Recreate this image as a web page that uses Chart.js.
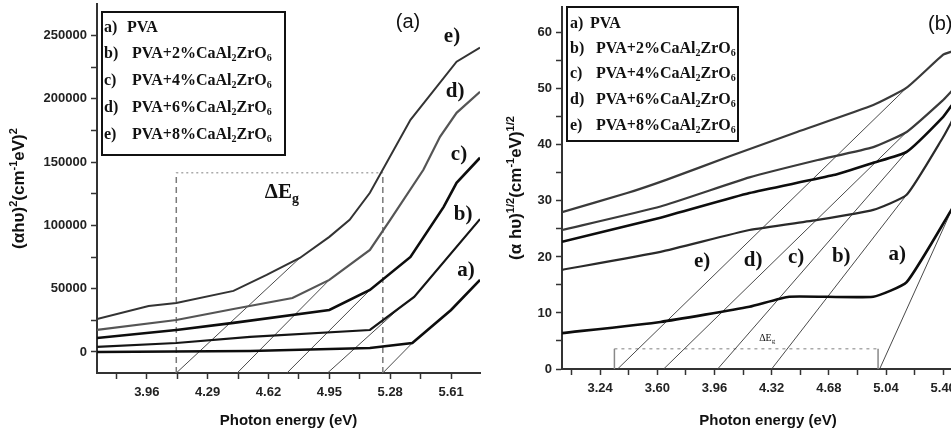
<!DOCTYPE html>
<html><head><meta charset="utf-8">
<script src="https://cdn.jsdelivr.net/npm/chart.js@4.4.1/dist/chart.umd.min.js"></script>
<style>
html,body{margin:0;padding:0;background:#fff;overflow:hidden;width:951px;height:433px;position:relative;}
#ca{position:absolute;left:0;top:0;}
#cb{position:absolute;left:490px;top:0;}
</style></head><body>
<canvas id="ca" width="490" height="433"></canvas>
<canvas id="cb" width="484" height="433"></canvas>
<script>
// ---------- shared text ----------
const seriesLetters = ['a)', 'b)', 'c)', 'd)', 'e)'];
const seriesNames = ['PVA', 'PVA+2%CaAl2ZrO6', 'PVA+4%CaAl2ZrO6', 'PVA+6%CaAl2ZrO6', 'PVA+8%CaAl2ZrO6'];
const xTitle = 'Photon energy (eV)';

// ---------- panel (a): (αhυ)^2 ----------
const curveA_a = [[3.69,0],[4.52,800],[5.17,3200],[5.40,7100],[5.61,33200],[5.767,57000]];
const curveA_b = [[3.69,4000],[4.12,7100],[4.52,11900],[5.17,17400],[5.41,43500],[5.767,105000]];
const curveA_c = [[3.69,11000],[4.12,17400],[4.43,23000],[4.95,33200],[5.17,49000],[5.39,75100],[5.57,114700],[5.64,133700],[5.767,153500]];
const curveA_d = [[3.69,17400],[4.12,25300],[4.43,34000],[4.75,42700],[4.95,57000],[5.17,80700],[5.28,104400],[5.46,144000],[5.55,170000],[5.64,189000],[5.767,205700]];
const curveA_e = [[3.69,26000],[3.97,36400],[4.12,38700],[4.43,48300],[4.61,60900],[4.79,74300],[4.95,91000],[5.06,104400],[5.17,125800],[5.39,183500],[5.64,229400],[5.767,240500]];
const tangentA_e = [[4.12,-16600],[4.79,74300]];
const tangentA_d = [[4.45,-16600],[4.95,57000]];
const tangentA_c = [[4.72,-16600],[5.17,49000]];
const tangentA_b = [[4.94,-16600],[5.335,35300]];
const tangentA_a = [[5.24,-16600],[5.40,7100]];
const gapBoxA = {x1: 4.12, x2: 5.24, top: 141600, bottom: -16600};
const xTicksA = [3.795,3.96,4.125,4.29,4.455,4.62,4.785,4.95,5.115,5.28,5.445,5.61];
const xLabelsA = [3.96,4.29,4.62,4.95,5.28,5.61];
const yTicksA = [0,25000,50000,75000,100000,125000,150000,175000,200000,225000,250000];
const yLabelsA = [0,50000,100000,150000,200000,250000];

// ---------- panel (b): (αhυ)^1/2 ----------
const curveB_a = [[3.0,6.4],[3.62,8.4],[4.18,11.1],[4.43,12.9],[4.96,12.9],[5.17,15.5],[5.46,28.8]];
const curveB_b = [[3.0,17.7],[3.62,20.9],[4.18,24.8],[4.61,26.6],[4.96,28.4],[5.17,31.1],[5.40,41.4],[5.46,44.5]];
const curveB_c = [[3.0,22.7],[3.62,27.0],[4.18,31.4],[4.71,34.6],[4.96,36.8],[5.17,38.75],[5.40,45.0],[5.46,47.3]];
const curveB_d = [[3.0,24.8],[3.62,29.0],[4.18,34.2],[4.61,37.3],[4.96,39.6],[5.17,42.3],[5.40,48.0],[5.46,49.8]];
const curveB_e = [[3.0,28.0],[3.41,31.4],[3.66,33.8],[4.06,38.0],[4.48,42.3],[4.96,47.1],[5.17,50.2],[5.40,56.1],[5.46,56.7]];
const tangentB_e = [[3.35,0],[5.17,50.2]];
const tangentB_d = [[3.64,0],[5.17,42.3]];
const tangentB_c = [[3.98,0],[5.17,38.75]];
const tangentB_b = [[4.32,0],[5.17,31.1]];
const tangentB_a = [[5.0,0],[5.46,28.8]];
const gapBoxB = {x1: 3.33, x2: 4.99, top: 3.6, bottom: 0};
const xTicksB = [3.06,3.24,3.42,3.60,3.78,3.96,4.14,4.32,4.50,4.68,4.86,5.04,5.22,5.40,5.58];
const xLabelsB = [3.24,3.60,3.96,4.32,4.68,5.04,5.40];
const yTicksB = [0,5,10,15,20,25,30,35,40,45,50,55,60];
const yLabelsB = [0,10,20,30,40,50,60];

// ---------- helpers ----------
const pts = arr => arr.map(p => ({x: p[0], y: p[1]}));
const SANS = '"Liberation Sans", Arial, sans-serif';
const SERIF = '"Liberation Serif", "Times New Roman", serif';

function richName(name) {
  const segs = [];
  for (let i = 0; i < name.length; i++) {
    const ch = name[i];
    const s = (/\d/.test(ch) && i > 0 && /[A-Za-z]/.test(name[i-1])) ? 'sub' : 'n';
    if (segs.length && segs[segs.length-1].s === s) segs[segs.length-1].t += ch;
    else segs.push({t: ch, s});
  }
  return segs;
}

function drawRich(ctx, segs, x, y, size, family, weight, align, rotate, color) {
  ctx.save();
  ctx.translate(x, y);
  if (rotate) ctx.rotate(-Math.PI / 2);
  const fontFor = s => `${weight} ${s === 'n' ? size : Math.round(size * 0.65)}px ${family}`;
  let total = 0;
  segs.forEach(g => { ctx.font = fontFor(g.s); g.w = ctx.measureText(g.t).width; total += g.w; });
  let cx = align === 'center' ? -total / 2 : 0;
  ctx.textBaseline = 'alphabetic';
  ctx.textAlign = 'left';
  ctx.fillStyle = color || '#111';
  const base = size * 0.35;
  segs.forEach(g => {
    ctx.font = fontFor(g.s);
    const dy = g.s === 'sup' ? -size * 0.42 : g.s === 'sub' ? size * 0.22 : 0;
    ctx.fillText(g.t, cx, base + dy);
    cx += g.w;
  });
  ctx.restore();
}

function axis(kind, min, max, tickVals, labelVals, fmt, size, pad, title) {
  const sc = {
    type: 'linear', min, max,
    afterBuildTicks: s => { s.ticks = tickVals.map(v => ({value: v})); },
    afterFit: s => {
      if (kind === 'x') s.height = size; else s.width = size;
      s.paddingTop = 0; s.paddingBottom = 0; s.paddingLeft = 0; s.paddingRight = 0;
    },
    grid: {display: true, drawOnChartArea: false, drawTicks: true, tickLength: 6, tickColor: '#333', tickWidth: 1.5},
    border: {display: true, color: '#333', width: 2},
    ticks: {
      autoSkip: false, maxRotation: 0, minRotation: 0, padding: pad, color: '#222',
      font: {family: SANS, size: 13, weight: 'bold'},
      callback: v => labelVals.some(l => Math.abs(l - v) < 1e-9) ? fmt(v) : ''
    },
    title: {display: false}
  };
  if (title) sc.title = {display: true, text: title, color: '#111', font: {family: SANS, size: 15, weight: 'bold'}, padding: {top: 0, bottom: 3}};
  return sc;
}

function curveDS(data, color, width, tension) {
  return {data: pts(data), borderColor: color, borderWidth: width, pointRadius: 0, tension: tension || 0, fill: false};
}
function boxDS(box) {
  return [
    {data: pts([[box.x1, box.bottom],[box.x1, box.top]]), kind: 'v'},
    {data: pts([[box.x2, box.bottom],[box.x2, box.top]]), kind: 'v'},
    {data: pts([[box.x1, box.top],[box.x2, box.top]]), kind: 'h'}
  ];
}

function makePanel(canvasId, cfg) {
  const datasets = [];
  cfg.curves.forEach((c, i) => datasets.push(curveDS(c, cfg.curveColors[i], cfg.curveWidths[i], cfg.tension)));
  cfg.tangents.forEach(t => datasets.push(curveDS(t, '#4a4a4a', 1, 0)));
  boxDS(cfg.box).forEach(b => {
    const st = b.kind === 'v' ? cfg.boxV : cfg.boxH;
    datasets.push({data: b.data, borderColor: st.color, borderWidth: st.width, borderDash: st.dash, pointRadius: 0, tension: 0, fill: false});
  });
  const annot = {
    id: 'annot' + canvasId,
    afterDraw(chart) {
      const ctx = chart.ctx, xs = chart.scales.x, ys = chart.scales.y;
      drawRich(ctx, cfg.yTitle, cfg.yTitlePos[0], (chart.chartArea.top + chart.chartArea.bottom) / 2, 17, SANS, 'bold', 'center', true, '#111');
      ctx.save();
      ctx.font = `20px ${SANS}`; ctx.fillStyle = '#111';
      ctx.textAlign = cfg.tag.align; ctx.textBaseline = 'middle';
      ctx.fillText(cfg.tag.text, cfg.tag.x, cfg.tag.y);
      ctx.restore();
      ctx.save();
      ctx.font = `bold 21px ${SERIF}`; ctx.fillStyle = '#111';
      ctx.textAlign = 'center'; ctx.textBaseline = 'middle';
      cfg.letterPos.forEach((p, i) => ctx.fillText(seriesLetters[i], xs.getPixelForValue(p[0]), ys.getPixelForValue(p[1])));
      ctx.restore();
      drawRich(ctx, [{t: 'ΔE', s: 'n'}, {t: 'g', s: 'sub'}], xs.getPixelForValue(cfg.gapLabel.x), ys.getPixelForValue(cfg.gapLabel.y),
        cfg.gapLabel.size, SERIF, cfg.gapLabel.weight, 'center', false, '#111');
      const L = cfg.legend;
      ctx.save();
      ctx.lineWidth = 2; ctx.strokeStyle = '#111';
      ctx.strokeRect(L.x, L.y, L.w, L.h);
      ctx.beginPath(); ctx.rect(L.x, L.y, L.w - 1, L.h); ctx.clip();
      seriesNames.forEach((n, i) => {
        drawRich(ctx, [{t: seriesLetters[i], s: 'n'}], L.letterX, L.rows[i], 16, SERIF, 'bold', 'left', false, '#111');
        drawRich(ctx, richName(n), i === 0 ? L.nameX0 : L.nameX, L.rows[i], 16, SERIF, 'bold', 'left', false, '#111');
      });
      ctx.restore();
    }
  };
  return new Chart(document.getElementById(canvasId), {
    type: 'line',
    data: {datasets},
    options: {
      responsive: false, animation: false, devicePixelRatio: 1,
      layout: {padding: cfg.padding},
      plugins: {legend: {display: false}, tooltip: {enabled: false}, title: {display: false}},
      scales: {
        x: axis('x', cfg.xMin, cfg.xMax, cfg.xTicks, cfg.xLabels, v => v.toFixed(2), cfg.xHeight, 6, xTitle),
        y: axis('y', cfg.yMin, cfg.yMax, cfg.yTicks, cfg.yLabels, v => String(v), cfg.yWidth, 4, null)
      }
    },
    plugins: [annot]
  });
}

makePanel('ca', {
  curves: [curveA_a, curveA_b, curveA_c, curveA_d, curveA_e],
  curveColors: ['#0d0d0d', '#151515', '#0d0d0d', '#555555', '#333333'],
  curveWidths: [2.6, 2.2, 2.6, 2.2, 2],
  tension: 0,
  tangents: [tangentA_a, tangentA_b, tangentA_c, tangentA_d, tangentA_e],
  box: gapBoxA,
  boxV: {color: '#7a7a7a', width: 1.5, dash: [6, 4]},
  boxH: {color: '#aaaaaa', width: 1.5, dash: [2, 3]},
  xMin: 3.69, xMax: 5.767, yMin: -16600, yMax: 275000,
  xTicks: xTicksA, xLabels: xLabelsA, yTicks: yTicksA, yLabels: yLabelsA,
  padding: {left: 0, right: 10, top: 4, bottom: 0}, xHeight: 60, yWidth: 97,
  yTitle: [{t: '(αhυ)', s: 'n'}, {t: '2', s: 'sup'}, {t: '(cm', s: 'n'}, {t: '-1', s: 'sup'}, {t: 'eV)', s: 'n'}, {t: '2', s: 'sup'}],
  yTitlePos: [18],
  tag: {text: '(a)', x: 408, y: 22, align: 'center'},
  letterPos: [[5.691, 64100], [5.675, 108400], [5.653, 155800], [5.632, 205700], [5.615, 249200]],
  gapLabel: {x: 4.693, y: 127400, size: 21, weight: 'bold'},
  legend: {x: 102, y: 12, w: 183, h: 143, rows: [26, 52, 79, 106, 133], letterX: 104, nameX0: 127, nameX: 132}
});

makePanel('cb', {
  curves: [curveB_a, curveB_b, curveB_c, curveB_d, curveB_e],
  curveColors: ['#0d0d0d', '#2a2a2a', '#0d0d0d', '#3a3a3a', '#3a3a3a'],
  curveWidths: [2.6, 2.2, 2.6, 2.2, 2.2],
  tension: 0.15,
  tangents: [tangentB_a, tangentB_b, tangentB_c, tangentB_d, tangentB_e],
  box: gapBoxB,
  boxV: {color: '#888888', width: 1.5, dash: []},
  boxH: {color: '#aaaaaa', width: 1.5, dash: [3, 4]},
  xMin: 3.0, xMax: 5.594, yMin: 0, yMax: 64.6,
  xTicks: xTicksB, xLabels: xLabelsB, yTicks: yTicksB, yLabels: yLabelsB,
  padding: {left: 0, right: 0, top: 7, bottom: 0}, xHeight: 64, yWidth: 72,
  yTitle: [{t: '(α hυ)', s: 'n'}, {t: '1/2', s: 'sup'}, {t: '(cm', s: 'n'}, {t: '-1', s: 'sup'}, {t: 'eV)', s: 'n'}, {t: '1/2', s: 'sup'}],
  yTitlePos: [25],
  tag: {text: '(b)', x: 438, y: 24, align: 'left'},
  letterPos: [[5.110, 20.4], [4.758, 20.0], [4.474, 19.8], [4.203, 19.3], [3.882, 19.1]],
  gapLabel: {x: 4.292, y: 5.7, size: 10, weight: 'normal'},
  legend: {x: 77, y: 7, w: 171, h: 134, rows: [22, 47, 72, 98, 124], letterX: 80, nameX0: 100, nameX: 106}
});
</script>
</body></html>
